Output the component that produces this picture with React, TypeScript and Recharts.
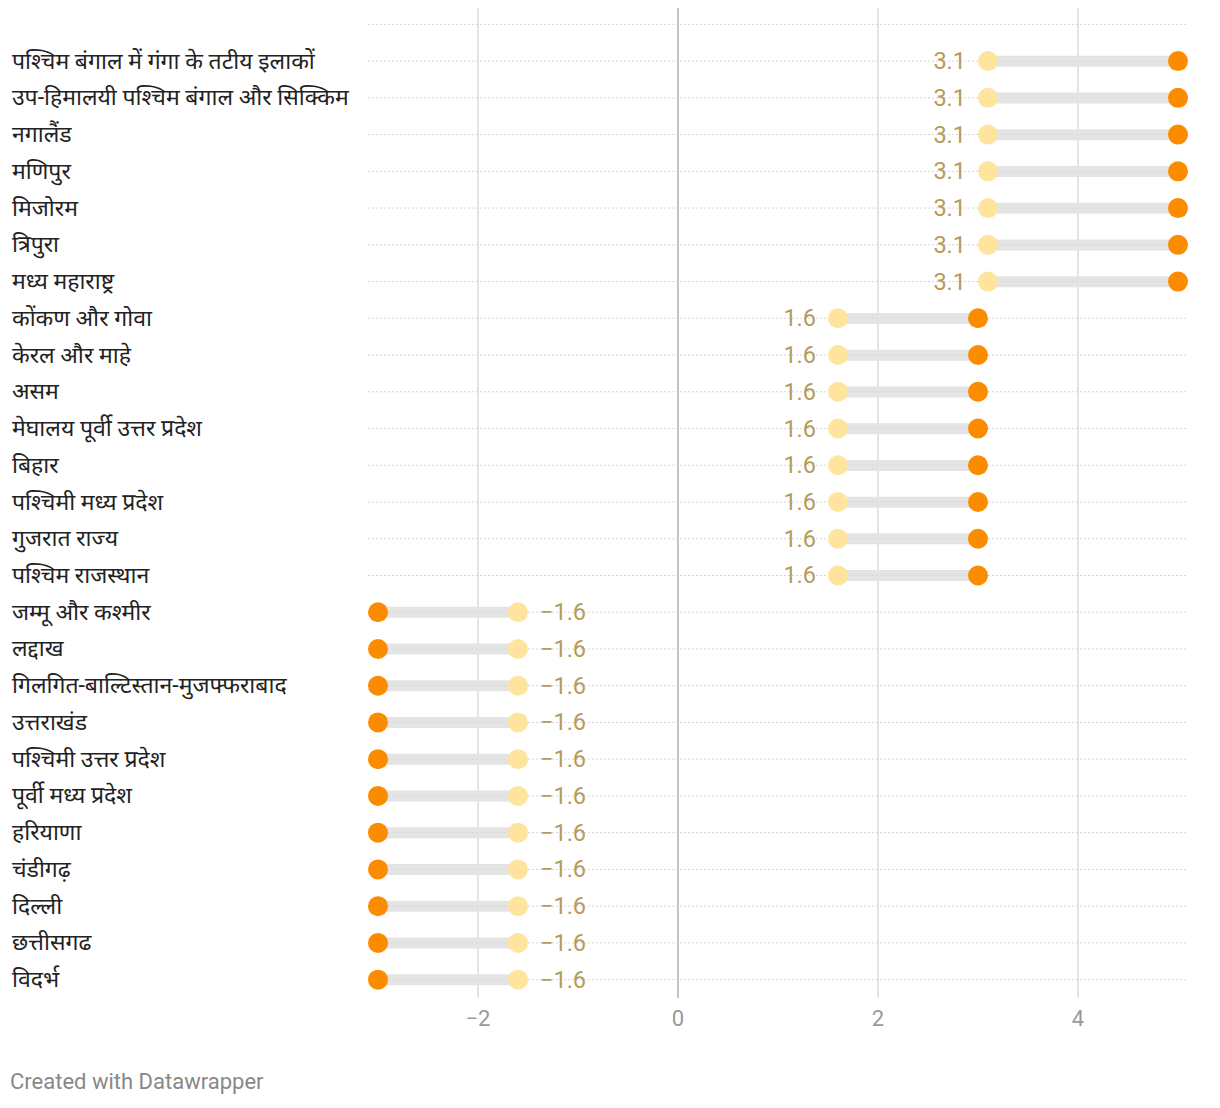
import React from "react";
import {
  ComposedChart,
  Bar,
  Line,
  XAxis,
  YAxis,
  ReferenceLine,
  LabelList,
} from "recharts";

const regions = [
  "पश्चिम बंगाल में गंगा के तटीय इलाकों",
  "उप-हिमालयी पश्चिम बंगाल और सिक्किम",
  "नगालैंड",
  "मणिपुर",
  "मिजोरम",
  "त्रिपुरा",
  "मध्य महाराष्ट्र",
  "कोंकण और गोवा",
  "केरल और माहे",
  "असम",
  "मेघालय पूर्वी उत्तर प्रदेश",
  "बिहार",
  "पश्चिमी मध्य प्रदेश",
  "गुजरात राज्य",
  "पश्चिम राजस्थान",
  "जम्मू और कश्मीर",
  "लद्दाख",
  "गिलगित-बाल्टिस्तान-मुजफ्फराबाद",
  "उत्तराखंड",
  "पश्चिमी उत्तर प्रदेश",
  "पूर्वी मध्य प्रदेश",
  "हरियाणा",
  "चंडीगढ़",
  "दिल्ली",
  "छत्तीसगढ",
  "विदर्भ",
];

const startValues = [
  3.1, 3.1, 3.1, 3.1, 3.1, 3.1, 3.1,
  1.6, 1.6, 1.6, 1.6, 1.6, 1.6, 1.6, 1.6,
  -1.6, -1.6, -1.6, -1.6, -1.6, -1.6, -1.6, -1.6, -1.6, -1.6, -1.6,
];

const endValues = [
  5.0, 5.0, 5.0, 5.0, 5.0, 5.0, 5.0,
  3.0, 3.0, 3.0, 3.0, 3.0, 3.0, 3.0, 3.0,
  -3.0, -3.0, -3.0, -3.0, -3.0, -3.0, -3.0, -3.0, -3.0, -3.0, -3.0,
];

const xTicks = [-2, 0, 2, 4];
const xDomain = [-3.1, 5.1];

const data = [
  { region: " ", start: null, end: null, range: null },
  ...regions.map((r, i) => ({
    region: r,
    start: startValues[i],
    end: endValues[i],
    range: [Math.min(startValues[i], endValues[i]), Math.max(startValues[i], endValues[i])],
  })),
];

const fmt = (v: number) => (v < 0 ? "\u2212" + Math.abs(v) : String(v));

const YTick = (props: any) => {
  const { y, payload } = props;
  return (
    <text
      x={12}
      y={y}
      dominantBaseline="central"
      textAnchor="start"
      fontSize={23}
      fill="#222"
      fontFamily="Roboto, 'Noto Sans', sans-serif"
    >
      {payload.value}
    </text>
  );
};

const XTick = (props: any) => {
  const { x, y, payload } = props;
  return (
    <text
      x={x}
      y={y + 20}
      textAnchor="middle"
      fontSize={22}
      fill="#999"
      fontFamily="Roboto, sans-serif"
    >
      {fmt(payload.value)}
    </text>
  );
};

const StartLabel = (props: any) => {
  const { x, y, value } = props;
  if (value == null) return null;
  const neg = value < 0;
  return (
    <text
      x={neg ? x + 22 : x - 22}
      y={y}
      dominantBaseline="central"
      textAnchor={neg ? "start" : "end"}
      fontSize={23.5}
      fill="#b59b5c"
      fontFamily="Roboto, sans-serif"
    >
      {fmt(value)}
    </text>
  );
};

export default function App() {
  return (
    <div
      style={{
        position: "relative",
        margin: -8,
        width: 1220,
        height: 1108,
        background: "#fff",
        overflow: "hidden",
      }}
    >
      <div style={{ position: "absolute", left: 0, top: 0 }}>
        <ComposedChart
          width={1220}
          height={1040}
          layout="vertical"
          data={data}
          margin={{ top: 6, right: 32, left: 0, bottom: 0 }}
        >
          <XAxis
            type="number"
            domain={xDomain}
            ticks={xTicks}
            allowDataOverflow
            axisLine={false}
            tickLine={false}
            tick={<XTick />}
            height={42}
          />
          <YAxis
            type="category"
            dataKey="region"
            width={368}
            axisLine={false}
            tickLine={false}
            tick={<YTick />}
            interval={0}
          />
          {xTicks.map((t) => (
            <ReferenceLine
              key={"x" + t}
              x={t}
              stroke={t === 0 ? "#c4c4c4" : "#e4e4e4"}
              strokeWidth={2}
            />
          ))}
          <Bar
            dataKey="range"
            fill="#e4e4e4"
            barSize={11}
            isAnimationActive={false}
          />
          {data.map((d) => (
            <ReferenceLine
              key={"y" + d.region}
              y={d.region}
              stroke="#d6d6d6"
              strokeDasharray="2 2"
            />
          ))}
          <Line
            dataKey="end"
            stroke="none"
            dot={{ r: 10, fill: "#fb8c00", stroke: "none" }}
            activeDot={false}
            isAnimationActive={false}
            connectNulls={false}
          />
          <Line
            dataKey="start"
            stroke="none"
            dot={{ r: 10, fill: "#ffe49d", stroke: "none" }}
            activeDot={false}
            isAnimationActive={false}
            connectNulls={false}
          >
            <LabelList dataKey="start" content={<StartLabel />} />
          </Line>
        </ComposedChart>
      </div>
      <div
        style={{
          position: "absolute",
          left: 10,
          top: 1069,
          fontFamily: "Roboto, sans-serif",
          fontSize: 22,
          color: "#888",
        }}
      >
        Created with Datawrapper
      </div>
    </div>
  );
}
